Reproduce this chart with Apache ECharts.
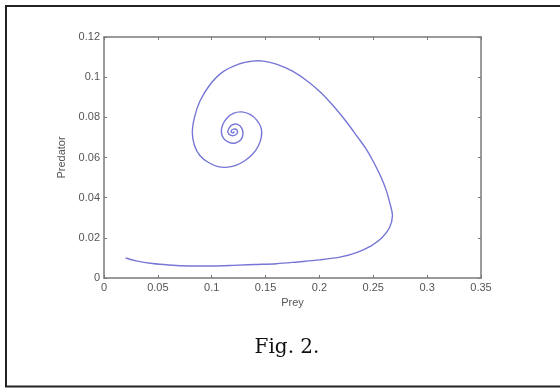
<!DOCTYPE html>
<html>
<head>
<meta charset="utf-8">
<script src="https://cdn.jsdelivr.net/npm/echarts@6/dist/echarts.min.js"></script>
<style>
  html, body { margin: 0; padding: 0; background: #fff; }
  #main { width: 560px; height: 388px; }
</style>
</head>
<body>
<div id="main"></div>
<script>
// prey values along the trajectory (time order)
var prey = [0.020, 0.030, 0.045, 0.060, 0.080, 0.100, 0.120, 0.140, 0.160, 0.180,
            0.200, 0.220, 0.235, 0.248, 0.258, 0.265, 0.2678, 0.2655, 0.2618, 0.2565,
            0.250, 0.243, 0.235, 0.225, 0.214, 0.202, 0.189, 0.175, 0.160, 0.148,
            0.138, 0.125, 0.110, 0.098, 0.089, 0.084, 0.082, 0.084, 0.089, 0.097,
            0.107, 0.115, 0.123, 0.131, 0.138, 0.143, 0.146, 0.146, 0.142, 0.136,
            0.128, 0.120, 0.114, 0.110, 0.109, 0.111, 0.116, 0.122, 0.127, 0.129,
            0.128, 0.124, 0.119, 0.116, 0.115, 0.118, 0.122, 0.124, 0.122, 0.119,
            0.118, 0.120, 0.121];
// predator values, same order
var predator = [0.0100, 0.0085, 0.0072, 0.0065, 0.0060, 0.0060, 0.0063, 0.0067, 0.0071, 0.0080,
                0.0090, 0.0105, 0.0128, 0.0160, 0.0200, 0.0250, 0.0310, 0.0370, 0.0440, 0.0510,
                0.0580, 0.0645, 0.0705, 0.0778, 0.0850, 0.0920, 0.0980, 0.1030, 0.1065, 0.1080,
                0.1080, 0.1065, 0.1025, 0.0960, 0.0880, 0.0800, 0.0725, 0.0660, 0.0610, 0.0575,
                0.0553, 0.0552, 0.0562, 0.0585, 0.0617, 0.0655, 0.0700, 0.0745, 0.0785, 0.0813,
                0.0827, 0.0820, 0.0795, 0.0760, 0.0725, 0.0695, 0.0675, 0.0672, 0.0688, 0.0715,
                0.0745, 0.0765, 0.0762, 0.0745, 0.0725, 0.0710, 0.0712, 0.0728, 0.0742, 0.0738,
                0.0728, 0.0722, 0.0730];
var xTicks = [0, 0.35, 0.05];   // min, max, step
var yTicks = [0, 0.12, 0.02];

var pts = [];
for (var i = 0; i < prey.length; i++) {
	pts.push([prey[i], predator[i]]);
}

var axisCol = '#7a7a7a';
var lblStyle = { color: '#555', fontSize: 11, fontFamily: 'Liberation Sans, Arial' };

// whole trajectory as one smooth path (catmull-rom through the points, in pixel space)
function renderTrajectory(params, api) {
	if (params.dataIndex !== 0) return null;
	var p = [];
	for (var k = 0; k < pts.length; k++) p.push(api.coord(pts[k]));
	var d = 'M' + p[0][0] + ' ' + p[0][1];
	for (var j = 0; j < p.length - 1; j++) {
		var p0 = p[Math.max(j - 1, 0)], p1 = p[j], p2 = p[j + 1], p3 = p[Math.min(j + 2, p.length - 1)];
		var c1x = p1[0] + (p2[0] - p0[0]) / 6, c1y = p1[1] + (p2[1] - p0[1]) / 6;
		var c2x = p2[0] - (p3[0] - p1[0]) / 6, c2y = p2[1] - (p3[1] - p1[1]) / 6;
		d += ' C' + c1x + ' ' + c1y + ' ' + c2x + ' ' + c2y + ' ' + p2[0] + ' ' + p2[1];
	}
	return {
		type: 'path',
		shape: { pathData: d },
		style: { fill: null, stroke: '#7676d6', lineWidth: 1.4 }
	};
}

var myChart = echarts.init(document.getElementById('main'));
var option = {
	animation: false,
	grid: { left: 104, right: 79, top: 37, bottom: 110 },
	graphic: [
		{
			type: 'rect',
			shape: { x: 6, y: 6, width: 560, height: 380.5 },
			style: { fill: 'none', stroke: '#222', lineWidth: 2 }
		},
		{
			type: 'text',
			x: 287, y: 348,
			style: {
				text: 'Fig. 2.',
				font: '20px "DejaVu Serif"',
				fill: '#111',
				align: 'center',
				verticalAlign: 'middle'
			}
		}
	],
	xAxis: [
		{
			type: 'value', min: xTicks[0], max: xTicks[1], interval: xTicks[2],
			name: 'Prey', nameLocation: 'middle', nameGap: 15,
			nameTextStyle: lblStyle,
			axisLine: { show: true, lineStyle: { color: axisCol, width: 1.5 } },
			axisTick: { show: true, inside: true, length: 3, lineStyle: { color: axisCol } },
			axisLabel: Object.assign({ margin: 4 }, lblStyle),
			splitLine: { show: false }
		},
		{
			type: 'value', position: 'top', min: xTicks[0], max: xTicks[1], interval: xTicks[2],
			axisLine: { show: true, onZero: false, lineStyle: { color: axisCol, width: 1.5 } },
			axisTick: { show: true, inside: true, length: 3, lineStyle: { color: axisCol } },
			axisLabel: { show: false },
			splitLine: { show: false }
		}
	],
	yAxis: [
		{
			type: 'value', min: yTicks[0], max: yTicks[1], interval: yTicks[2],
			name: 'Predator', nameLocation: 'middle', nameGap: 31,
			nameTextStyle: lblStyle,
			axisLine: { show: true, lineStyle: { color: axisCol, width: 1.5 } },
			axisTick: { show: true, inside: true, length: 3, lineStyle: { color: axisCol } },
			axisLabel: Object.assign({ margin: 4 }, lblStyle),
			splitLine: { show: false }
		},
		{
			type: 'value', position: 'right', min: yTicks[0], max: yTicks[1], interval: yTicks[2],
			axisLine: { show: true, onZero: false, lineStyle: { color: axisCol, width: 1.5 } },
			axisTick: { show: true, inside: true, length: 3, lineStyle: { color: axisCol } },
			axisLabel: { show: false },
			splitLine: { show: false }
		}
	],
	series: [
		{
			type: 'custom',
			xAxisIndex: 0, yAxisIndex: 0,
			data: pts,
			encode: { x: 0, y: 1 },
			renderItem: renderTrajectory,
			silent: true
		},
		{
			// empty series so the box axes (top / right) are drawn
			type: 'line',
			xAxisIndex: 1, yAxisIndex: 1,
			data: [],
			showSymbol: false
		}
	]
};
myChart.setOption(option);
</script>
</body>
</html>
